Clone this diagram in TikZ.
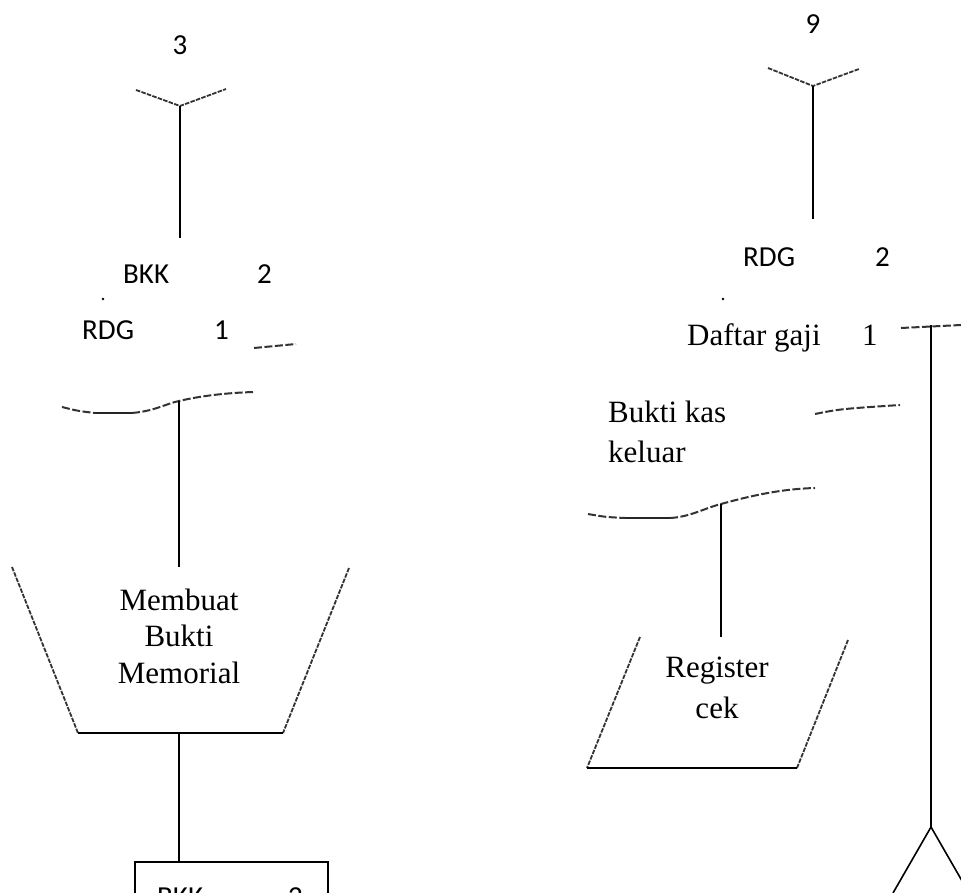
\documentclass[tikz,border=0pt]{standalone}
\usepackage{fontspec}
\setmainfont{Liberation Serif}
\newfontfamily\labelfont{Carlito}
\begin{document}
\begin{tikzpicture}[x=1pt,y=-1pt,
  conn/.style={line width=1.6pt, black},
  edge/.style={line width=1.8pt, black!80, dash pattern=on 4.5pt off 1.3pt},
  wave/.style={line width=2pt, black!80, dash pattern=on 8pt off 2.5pt},
  flat/.style={line width=2pt, black!85},
  serif/.style={inner sep=0pt, font=\fontsize{31}{37}\selectfont},
  sans/.style={inner sep=0pt, font=\labelfont\fontsize{29}{35}\selectfont}]
\useasboundingbox (0,0) rectangle (961,893);
\clip (0,0) rectangle (961,893);

% ---------- left column ----------
% off-page connector 3
\node[sans, anchor=base] (n3) at (180,55) {3};
\coordinate (yl1) at (136,90);
\coordinate (yl) at (180,106);
\coordinate (yl2) at (226,89);
\draw[edge] (yl1) -- (yl) -- (yl2);
\coordinate (yl-end) at (180,238);
\draw[conn] (yl) -- (yl-end);

% stacked documents BKK 2 / RDG 1
\node[sans, anchor=base west] (bkk) at (123,284) {BKK};
\node[sans, anchor=base west] (bkk2) at (257,284) {2};
\node[circle, fill=black, inner sep=1pt] (dotl) at (103,299) {};
\node[sans, anchor=base west] (rdg) at (82,339) {RDG};
\node[sans, anchor=base west] (rdg1) at (214,339) {1};
\coordinate (w0a) at (254,348);
\coordinate (w0b) at (296,344);
\draw[wave] (w0a) -- (w0b);
\coordinate (wl0) at (62,407);
\coordinate (wl1) at (95,413);
\coordinate (wl2) at (132,413);
\coordinate (wl3) at (179,401);
\coordinate (wl4) at (253,392);
\draw[wave] (wl0) .. controls (78,411) .. (wl1);
\draw[flat] (wl1) -- (wl2);
\draw[wave] (wl2) .. controls (155,411) and (165,404) .. (wl3)
  .. controls (200,396) and (225,393) .. (wl4);

% manual operation: Membuat Bukti Memorial
\coordinate (tz-tl) at (12,567);
\coordinate (tz-bl) at (78,733);
\coordinate (tz-br) at (283,733);
\coordinate (tz-tr) at (349,568);
\coordinate (tz-top) at (179,567);
\coordinate (tz-bot) at (179,733);
\draw[conn] (wl3) -- (tz-top);
\draw[edge] (tz-tl) -- (tz-bl);
\draw[edge] (tz-tr) -- (tz-br);
\draw[conn] (tz-bl) -- (tz-br);
\node[serif, anchor=base] (mb1) at (179,610) {Membuat};
\node[serif, anchor=base] (mb2) at (179,646) {Bukti};
\node[serif, anchor=base] (mb3) at (179,683) {Memorial};

% document BKK 2 at the bottom
\node[draw, line width=1.6pt, minimum width=193pt, minimum height=80pt,
      anchor=north west, inner sep=0pt] (bkkdoc) at (134,861) {};
\draw[conn] (tz-bot) -- (bkkdoc.north -| tz-bot);
\node[sans, anchor=base west] (bkkb) at (157,906) {BKK};
\node[sans, anchor=base west] (bkkb2) at (288,906) {2};

% ---------- right column ----------
\node[sans, anchor=base] (n9) at (813,34) {9};
\coordinate (yr1) at (768,68);
\coordinate (yr) at (813,86);
\coordinate (yr2) at (859,69);
\draw[edge] (yr1) -- (yr) -- (yr2);
\coordinate (yr-end) at (813,219);
\draw[conn] (yr) -- (yr-end);

\node[sans, anchor=base west] (rdgr) at (743,267) {RDG};
\node[sans, anchor=base west] (rdgr2) at (875,267) {2};
\node[circle, fill=black, inner sep=1pt] (dotr) at (723,299) {};
\node[serif, anchor=base west] (dg) at (687,345) {Daftar gaji};
\node[serif, anchor=base west] (dg1) at (862,345) {1};
\coordinate (wr0a) at (901,328);
\coordinate (wr0b) at (961,325);
\draw[wave] (wr0a) -- (wr0b);

\node[serif, anchor=base west] (bk1) at (608,422) {Bukti kas};
\node[serif, anchor=base west] (bk2) at (608,462) {keluar};
\coordinate (wr1a) at (815,414);
\coordinate (wr1b) at (900,405);
\draw[wave] (wr1a) .. controls (840,409) .. (wr1b);

\coordinate (wr0) at (588,514);
\coordinate (wr1) at (625,518);
\coordinate (wr2) at (670,518);
\coordinate (wr3) at (721,504);
\coordinate (wr4) at (815,488);
\draw[wave] (wr0) .. controls (605,517) .. (wr1);
\draw[flat] (wr1) -- (wr2);
\draw[wave] (wr2) .. controls (690,517) and (705,508) .. (wr3)
  .. controls (750,496) and (780,489) .. (wr4);

% manual input: Register cek
\coordinate (pg-tl) at (640,637);
\coordinate (pg-bl) at (587,768);
\coordinate (pg-br) at (797,768);
\coordinate (pg-tr) at (848,640);
\coordinate (pg-top) at (721,637);
\draw[conn] (wr3) -- (pg-top);
\draw[edge] (pg-tl) -- (pg-bl);
\draw[edge] (pg-tr) -- (pg-br);
\draw[conn] (pg-bl) -- (pg-br);
\node[serif, anchor=base] (rg1) at (717,677) {Register};
\node[serif, anchor=base] (rg2) at (717,718) {cek};

% line down to the file symbol
\coordinate (fl-top) at (931,325);
\coordinate (fl-apex) at (931,827);
\coordinate (fl-l) at (893,893);
\coordinate (fl-r) at (969,893);
\draw[conn] (fl-top) -- (fl-apex);
\draw[conn] (fl-l) -- (fl-apex) -- (fl-r);
\end{tikzpicture}
\end{document}
